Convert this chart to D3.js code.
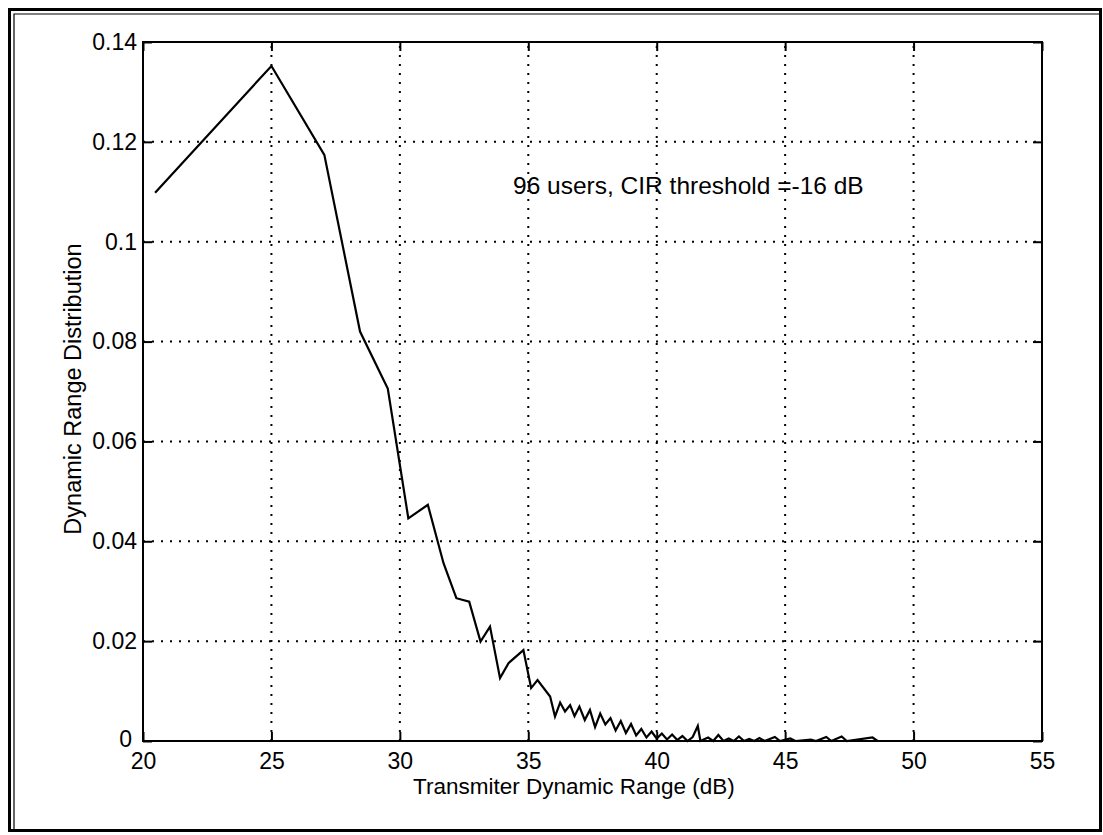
<!DOCTYPE html>
<html>
<head>
<meta charset="utf-8">
<script src="https://cdn.jsdelivr.net/npm/d3@7.9.0/dist/d3.min.js"></script>
<style>
  body { margin: 0; background: #fff; }
  svg { display: block; font-family: "Liberation Sans", Arial, sans-serif; }
  .tick text { font-size: 23px; fill: #000; }
</style>
</head>
<body>
<svg id="chart" width="1103" height="835"></svg>
<script>
// Transmitter dynamic range (dB)
const rangeDb = [
  20.47, 25.0, 27.06, 28.45, 29.3, 29.53, 30.33, 31.09, 31.7, 32.2, 32.7, 33.14, 33.51,
  33.9, 34.23, 34.81, 35.11, 35.36, 35.85, 36.04, 36.24, 36.43, 36.63, 36.8, 36.99,
  37.2, 37.4, 37.6, 37.8, 38.0, 38.2, 38.4, 38.6, 38.8, 39.0, 39.2, 39.4, 39.6, 39.8,
  40.0, 40.2, 40.4, 40.6, 40.8, 41.0, 41.2, 41.4, 41.6, 41.7, 42.0, 42.2, 42.4, 42.6,
  42.8, 43.0, 43.2, 43.4, 43.6, 43.8, 44.0, 44.2, 44.6, 44.8, 45.2, 45.4, 46.0, 46.2,
  46.6, 46.8, 47.2, 47.4, 48.4, 48.6, 52.5
];
// Dynamic range distribution
const distribution = [
  0.1098, 0.1352, 0.1174, 0.082, 0.073, 0.0706, 0.0446, 0.0473, 0.0356, 0.0286, 0.0279, 0.0199, 0.0229,
  0.0126, 0.0156, 0.0182, 0.0106, 0.0122, 0.0089, 0.0049, 0.0077, 0.0059, 0.0072, 0.005, 0.0069,
  0.0042, 0.0062, 0.0028, 0.0055, 0.0033, 0.0046, 0.0021, 0.0040, 0.0016, 0.0034, 0.0011, 0.0024, 0.0007, 0.0019,
  0.0005, 0.0015, 0.0003, 0.0013, 0.0002, 0.0010, 0.0, 0.0008, 0.0030, 0.0, 0.0007, 0.0, 0.0012, 0.0,
  0.0005, 0.0, 0.0009, 0.0, 0.0004, 0.0, 0.0006, 0.0, 0.0008, 0.0, 0.0005, 0.0, 0.0003, 0.0,
  0.0008, 0.0, 0.0009, 0.0, 0.0007, 0.0, 0.0
];
const xTicks = [20, 25, 30, 35, 40, 45, 50, 55];
const yTicks = [0, 0.02, 0.04, 0.06, 0.08, 0.1, 0.12, 0.14];

const svg = d3.select('#chart');
const plot = { left: 143, right: 1042, top: 42, bottom: 741 };

const x = d3.scaleLinear().domain([20, 55]).range([plot.left, plot.right]);
const y = d3.scaleLinear().domain([0, 0.14]).range([plot.bottom, plot.top]);

// outer double frame
svg.append('rect')
  .attr('x', 9.5).attr('y', 9.5).attr('width', 1091).attr('height', 821)
  .attr('fill', 'none').attr('stroke', '#000').attr('stroke-width', 3);
svg.append('path')
  .attr('d', 'M14,830 V14 H1100')
  .attr('fill', 'none').attr('stroke', '#000').attr('stroke-width', 1.2);

// dotted grid
const grid = svg.append('g').attr('stroke', '#000').attr('stroke-width', 2)
  .attr('stroke-dasharray', '2,7');
xTicks.slice(1, -1).forEach(t => {
  grid.append('line').attr('x1', x(t)).attr('x2', x(t))
    .attr('y1', plot.bottom).attr('y2', plot.top);
});
yTicks.slice(1, -1).forEach(t => {
  grid.append('line').attr('x1', plot.left).attr('x2', plot.right)
    .attr('y1', y(t)).attr('y2', y(t));
});

// axes with inward ticks
const fmtY = d => d === 0 ? '0' : String(+d.toFixed(2));
const axes = [
  [d3.axisBottom(x).tickValues(xTicks).tickSize(-9).tickPadding(12), `translate(0,${plot.bottom})`],
  [d3.axisTop(x).tickValues(xTicks).tickSize(-9).tickFormat(''), `translate(0,${plot.top})`],
  [d3.axisLeft(y).tickValues(yTicks).tickSize(-9).tickPadding(6).tickFormat(fmtY), `translate(${plot.left},0)`],
  [d3.axisRight(y).tickValues(yTicks).tickSize(-9).tickFormat(''), `translate(${plot.right},0)`]
];
axes.forEach(([ax, tr]) => {
  const g = svg.append('g').attr('transform', tr).call(ax);
  g.select('.domain').remove();
  g.selectAll('.tick line').attr('stroke', '#000').attr('stroke-width', 2);
});
// the "0" label sits a little left and up, clear of the "20" below it
svg.selectAll('.tick text').filter(d => d === 0).attr('x', -11).attr('dy', '0.22em');

// axes box
svg.append('rect')
  .attr('x', plot.left).attr('y', plot.top)
  .attr('width', plot.right - plot.left).attr('height', plot.bottom - plot.top)
  .attr('fill', 'none').attr('stroke', '#000').attr('stroke-width', 2);

// data line
const line = d3.line().x((d, i) => x(rangeDb[i])).y(d => y(d));
svg.append('path')
  .datum(distribution)
  .attr('d', line)
  .attr('fill', 'none').attr('stroke', '#000').attr('stroke-width', 2.2)
  .attr('stroke-linejoin', 'miter');

// labels
svg.append('text')
  .attr('x', 574).attr('y', 794)
  .attr('text-anchor', 'middle').attr('font-size', 22.5)
  .text('Transmiter Dynamic Range (dB)');

svg.append('text')
  .attr('transform', 'translate(81,389) rotate(-90)')
  .attr('text-anchor', 'middle').attr('font-size', 23.5)
  .text('Dynamic Range Distribution');

svg.append('text')
  .attr('x', 513).attr('y', 194).attr('font-size', 24.5)
  .text('96 users, CIR threshold =-16 dB');
</script>
</body>
</html>
